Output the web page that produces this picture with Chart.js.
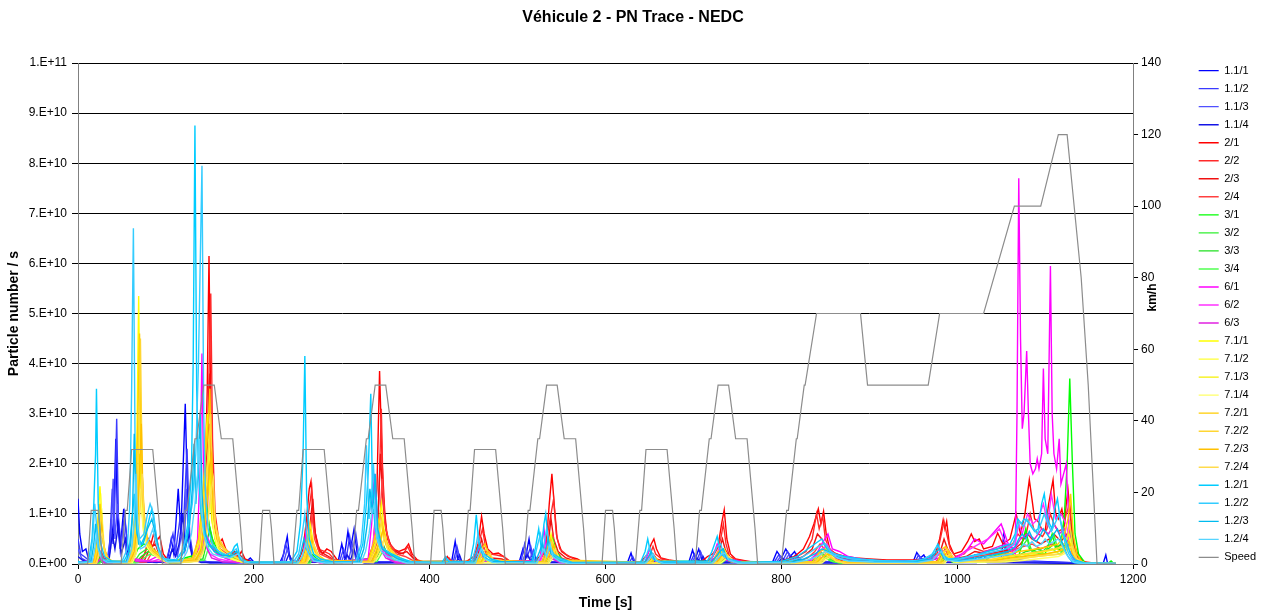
<!DOCTYPE html>
<html>
<head>
<meta charset="utf-8">
<script src="https://cdn.jsdelivr.net/npm/chart.js@4"></script>
<style>
  html, body { margin: 0; background: #fff; }
</style>
</head>
<body>
<canvas id="grafico" width="1267" height="613"></canvas>
<script>
// PN per second, stored as [time s, value in 1e9 particles/s]
const pn_11_1 = [[0,13],[2,6],[5,2.5],[9,3],[12,1],[20,0.4],[30,0.5],[35,2],[38,9],[40,4],[43,25],[45,8],[48,3],[52,11],[55,6],[58,1.5],[65,0.5],[90,0.3],[102,1],[106,5],[109,2],[114,15],[117,6],[122,32],[125,10],[128,3],[134,1],[150,0.3],[190,0.3],[196,1.2],[200,0.4],[230,0.4],[234,2],[238,5.5],[241,1],[250,0.3],[296,0.6],[300,4],[303,1.5],[307,6.5],[310,3],[314,7],[318,1.5],[325,0.4],[425,0.5],[429,4.5],[432,1],[438,0.3],[502,0.5],[506,3],[509,1.2],[513,5],[516,1.5],[522,0.4],[625,0.3],[629,2.2],[632,0.4],[695,0.5],[699,2.8],[702,1],[706,3],[710,0.6],[790,0.4],[795,2.5],[800,1.2],[805,3],[810,1.5],[815,2.5],[820,0.6],[870,0.4],[950,0.5],[954,2.3],[958,1.2],[962,1.8],[966,0.4],[1015,0.6],[1020,1.8],[1025,1.2],[1030,1.6],[1036,0.5],[1050,1],[1053,6],[1056,1],[1080,0.6],[1110,0.4],[1140,0.2],[1166,0.1],[1169,1.8],[1171,0.1],[1180,0.1]];
const pn_11_2 = [[0,5],[3,2],[7,1.5],[12,0.8],[20,0.4],[33,0.6],[36,4],[39,15],[41,6],[44,29],[46,9],[49,4],[53,10],[56,4],[60,1],[70,0.4],[100,0.5],[104,3],[108,6],[111,2.5],[116,9],[119,4],[124,23],[127,6],[131,1.5],[140,0.5],[180,0.2],[195,0.8],[200,0.3],[232,0.5],[236,4],[240,2],[244,0.4],[298,0.8],[302,3],[305,1],[309,5.5],[312,2],[316,6],[320,1],[330,0.3],[427,0.6],[431,3.5],[435,0.5],[504,0.6],[508,4],[511,1.5],[515,3.5],[519,0.5],[627,0.3],[631,1.5],[634,0.3],[697,0.5],[701,2],[704,0.8],[708,2.5],[712,0.4],[792,0.4],[797,1.8],[802,0.8],[807,2.5],[812,1],[817,2],[822,0.4],[952,0.4],[956,1.8],[960,0.8],[964,1.4],[968,0.3],[1018,0.5],[1023,1.5],[1028,0.8],[1033,1.3],[1040,0.4],[1052,0.6],[1055,4],[1058,0.6],[1090,0.4],[1140,0.2],[1180,0.1]];
const pn_11_3 = [[0,3],[4,1.2],[10,0.6],[20,0.3],[34,0.5],[37,3],[40,17],[42,5],[45,12],[48,3],[52,7],[55,2],[60,0.5],[100,0.4],[105,2],[110,4],[113,1.5],[118,6],[121,3],[123,15],[126,4],[132,0.8],[150,0.2],[234,0.4],[238,3],[242,0.5],[300,0.6],[304,2.5],[308,1],[312,4],[316,1],[325,0.3],[428,0.4],[432,2.5],[436,0.3],[505,0.4],[510,2.5],[514,1],[518,2.8],[522,0.3],[698,0.3],[702,1.5],[706,0.6],[709,2],[713,0.3],[794,0.3],[799,1.5],[804,0.6],[809,2],[814,0.8],[819,1.5],[824,0.3],[954,0.3],[958,1.4],[963,0.5],[1020,0.4],[1026,1.2],[1032,0.5],[1054,0.5],[1057,3],[1060,0.5],[1140,0.1],[1180,0.1]];
const pn_11_4 = [[0,1.5],[5,0.8],[15,0.3],[35,0.4],[39,6],[42,3],[46,8],[49,2],[54,5],[58,1],[65,0.3],[103,0.4],[107,3],[111,1.5],[115,4],[119,10],[122,3],[126,6],[130,1],[140,0.3],[236,0.3],[240,2],[244,0.3],[302,0.4],[306,1.8],[310,0.8],[314,3],[318,0.6],[326,0.2],[430,0.3],[434,1.8],[437,0.3],[507,0.3],[511,1.8],[515,0.6],[519,2],[523,0.3],[700,0.3],[704,1.2],[708,0.4],[711,1.5],[715,0.2],[796,0.3],[801,1.2],[806,0.5],[811,1.6],[816,0.6],[821,1.2],[826,0.2],[956,0.2],[960,1],[964,0.3],[1022,0.3],[1028,1],[1034,0.3],[1140,0.1],[1180,0.1]];

const pn_2_1 = [[0,0.3],[15,0.5],[22,1.5],[26,2.5],[30,1],[40,0.4],[70,0.5],[76,2],[80,5],[83,4],[86,6],[89,4.5],[93,5.5],[97,2],[102,0.8],[115,0.5],[130,1],[138,3],[142,8],[145,20],[147,35],[149,61.5],[151,30],[154,12],[157,6],[160,4],[164,5],[168,3],[173,2],[178,2.5],[182,1.5],[186,2.5],[190,1],[197,0.4],[215,0.2],[250,0.3],[256,3],[260,9],[263,15],[265,16.5],[268,8],[272,4],[278,2],[283,3],[288,2.5],[294,1],[300,0.4],[330,1],[336,4],[340,15],[343,38.5],[346,20],[349,10],[352,5],[358,3],[365,2.5],[372,3],[376,4],[380,2],[386,0.8],[395,0.3],[416,0.4],[420,1.5],[424,0.5],[440,0.3],[450,1.5],[455,4],[459,9.5],[462,6],[466,3],[472,2],[478,2.2],[484,1.5],[490,0.6],[520,0.6],[528,2],[533,5],[536,12],[539,18],[542,11],[545,5],[550,2.5],[558,1.5],[568,1],[575,0.3],[640,0.4],[648,2],[652,4],[655,5],[658,3],[663,1.2],[672,0.8],[680,0.6],[688,0.3],[710,0.6],[716,1.5],[722,2],[728,3.5],[732,8],[735,10.8],[738,5],[742,2],[748,1],[760,0.6],[770,0.3],[800,0.5],[815,1.5],[825,3],[832,5.5],[837,8],[842,11],[845,8],[848,10.5],[851,6],[855,3],[862,2],[872,1.5],[885,1.2],[900,1],[920,0.8],[945,0.8],[960,0.8],[975,2],[980,5],[984,8.8],[986,7],[988,8.5],[991,4],[996,2],[1005,2.5],[1012,4.5],[1016,6],[1020,4.5],[1025,5],[1030,3],[1040,3.5],[1046,6.2],[1052,4],[1060,5],[1067,10],[1072,6],[1077,10],[1082,16.8],[1085,13],[1088,9],[1092,8.5],[1096,7],[1100,6.5],[1104,12],[1109,16.8],[1112,10],[1115,9],[1119,11],[1122,8],[1124,12],[1126,14.8],[1129,9],[1133,4],[1138,1.5],[1145,0.4],[1160,0.1],[1180,0.1]];
const pn_2_2 = [[0,0.2],[18,0.4],[23,1.5],[27,2],[31,0.6],[45,0.3],[72,0.6],[78,3],[82,4.5],[85,3.5],[89,5.5],[92,3],[97,1.2],[105,0.5],[128,0.8],[136,2],[141,6],[145,14],[148,30],[151,54],[153,25],[156,10],[160,5],[165,3.5],[170,2.5],[176,2],[181,2.5],[186,1.2],[195,0.3],[252,0.4],[258,2.5],[262,10],[266,15],[269,7],[273,3],[280,2.5],[286,2],[292,0.8],[300,0.3],[333,1],[339,5],[342,12],[345,31],[347,14],[350,7],[355,4],[362,2.5],[370,2],[375,3.5],[380,1.5],[388,0.4],[418,0.3],[422,1.2],[426,0.3],[448,0.6],[453,2],[457,5],[460,7],[463,4],[468,2],[476,1.8],[484,1.5],[492,0.5],[525,0.6],[531,2.5],[535,7],[538,10],[541,13],[544,6],[548,3],[556,1.8],[566,0.8],[576,0.3],[645,0.3],[651,2],[654,3.5],[657,2],[664,1],[676,0.6],[688,0.3],[715,0.5],[722,1.5],[727,3],[731,5],[734,8],[737,4],[741,1.5],[750,0.8],[765,0.3],[805,0.5],[818,1.5],[828,2.5],[835,5],[840,10],[843,7],[847,9.5],[850,5],[856,2.5],[866,1.8],[880,1.2],[900,0.8],[930,0.6],[960,0.6],[977,2],[982,6],[985,8.5],[988,6],[992,3],[998,1.5],[1008,2],[1015,3.5],[1022,3],[1030,2.5],[1045,3],[1055,3.5],[1063,4],[1069,6],[1074,5],[1079,6.4],[1083,10],[1087,7],[1092,6],[1097,5.5],[1102,7],[1106,10],[1110,8],[1115,6.5],[1120,7],[1124,10],[1128,12],[1131,6],[1135,2],[1140,0.6],[1150,0.1],[1180,0.1]];
const pn_2_3 = [[0,0.1],[20,0.3],[25,1.2],[30,0.3],[75,0.5],[80,2.5],[84,3.5],[88,4],[92,2],[98,0.8],[110,0.3],[135,1],[140,4],[144,10],[147,20],[150,38],[152,18],[155,8],[160,4],[166,3],[174,2],[184,1.8],[192,0.5],[200,0.2],[255,0.3],[260,2],[264,8],[267,13],[270,6],[275,2.5],[285,1.5],[295,0.4],[335,0.8],[340,4],[344,22],[347,12],[351,6],[357,3],[366,2],[374,2.5],[382,1],[390,0.3],[450,0.5],[455,1.8],[459,5],[462,3],[470,1.2],[482,1],[492,0.3],[528,0.5],[534,3],[538,9],[541,5],[546,2.5],[555,1.2],[570,0.3],[650,0.3],[654,2],[658,1],[668,0.4],[720,0.4],[728,2],[733,5],[736,3],[742,1],[755,0.3],[810,0.4],[825,1.5],[835,3],[841,6],[846,5],[852,3],[860,1.5],[880,0.8],[920,0.5],[965,0.5],[980,2],[985,5],[989,3],[996,1],[1010,1.5],[1020,2.5],[1035,2],[1050,2.5],[1065,3],[1072,4],[1080,6],[1085,5],[1095,4],[1105,5],[1110,6],[1118,4.5],[1125,6],[1129,8],[1133,3],[1138,0.8],[1150,0.1],[1180,0.1]];
const pn_2_4 = [[0,0.1],[22,0.4],[26,1],[30,0.2],[78,0.4],[83,2],[87,3],[91,1.5],[98,0.5],[138,0.8],[143,3],[147,9],[150,28],[152,12],[156,5],[162,3],[170,2],[180,1.5],[190,0.4],[258,0.3],[263,3],[266,10],[269,5],[275,2],[288,1],[298,0.3],[338,0.8],[342,5],[346,17],[349,8],[354,4],[362,2],[372,1.5],[380,0.8],[390,0.2],[452,0.4],[457,1.5],[460,4],[464,2],[472,0.8],[490,0.2],[530,0.4],[536,2],[540,6],[543,3],[550,1.2],[565,0.2],[652,0.3],[656,1.5],[660,0.5],[724,0.3],[730,1.5],[735,3],[739,1.5],[748,0.4],[815,0.3],[830,1.2],[838,2.5],[844,4],[849,3],[856,1.5],[870,0.6],[910,0.4],[975,0.4],[982,1.5],[986,3],[990,1.5],[1000,0.6],[1020,1.5],[1040,2],[1060,2.5],[1075,3.5],[1085,4],[1095,3],[1108,4],[1115,3.5],[1122,4],[1128,5],[1132,2],[1138,0.5],[1150,0.1],[1180,0.1]];

const pn_3_1 = [[0,0.2],[20,0.3],[25,1.5],[30,0.4],[62,0.5],[68,3],[75,4],[82,3.5],[88,2.5],[95,1],[105,0.4],[138,2],[143,6],[146,12],[149,8],[153,5],[158,3],[165,2],[175,1.5],[185,1],[195,0.3],[258,0.5],[262,3],[266,2],[272,1],[280,0.3],[332,1],[338,4],[342,6],[346,4],[352,2],[360,1],[370,0.4],[452,0.5],[457,2],[461,1.5],[468,0.5],[530,0.5],[536,3],[540,5],[544,2.5],[550,1],[560,0.3],[648,0.4],[653,1.5],[658,0.5],[725,0.5],[730,2],[735,2.5],[740,1],[750,0.3],[835,0.6],[842,2.5],[848,2],[855,1],[870,0.4],[978,0.5],[984,2.5],[990,1],[1000,0.5],[1030,1],[1050,2],[1070,1.5],[1078,7],[1082,3],[1090,2.5],[1100,2],[1108,6],[1112,3],[1118,4],[1122,10],[1125,20],[1128,37],[1131,20],[1134,6],[1138,2],[1145,0.3],[1172,0.2],[1175,0.6],[1178,0.1],[1180,0.1]];
const pn_3_2 = [[0,0.1],[22,0.3],[26,1],[30,0.3],[64,0.4],[70,2],[78,3],[85,2.5],[92,1.5],[100,0.3],[140,1.5],[145,5],[148,9],[152,5],[157,2.5],[165,1.5],[180,1],[195,0.2],[260,0.4],[264,2],[270,0.8],[280,0.2],[335,0.8],[340,3],[344,5],[348,3],[356,1.2],[368,0.3],[455,0.4],[459,1.5],[465,0.4],[532,0.4],[538,2.5],[542,3.5],[547,1.2],[558,0.2],[650,0.3],[655,1],[660,0.2],[728,0.4],[734,1.8],[740,0.6],[752,0.2],[838,0.5],[845,2],[852,1.2],[865,0.3],[980,0.4],[986,1.8],[992,0.6],[1005,0.4],[1040,0.8],[1060,1.5],[1072,3],[1080,5],[1085,2.5],[1095,2],[1105,4],[1110,6],[1114,3],[1120,3],[1125,5],[1128,8],[1131,3],[1136,0.8],[1145,0.1],[1180,0.1]];
const pn_3_3 = [[0,0.1],[24,0.2],[27,0.8],[31,0.2],[66,0.3],[72,1.5],[80,2.5],[88,2],[95,0.8],[105,0.2],[142,1],[146,4],[150,7],[154,3.5],[160,2],[170,1.2],[185,0.6],[195,0.1],[262,0.3],[266,1.5],[272,0.4],[338,0.6],[343,2.5],[347,4],[352,1.5],[362,0.4],[534,0.3],[540,2],[545,1],[555,0.2],[730,0.3],[736,1.2],[742,0.4],[840,0.4],[848,1.5],[856,0.6],[868,0.2],[982,0.3],[988,1.2],[994,0.4],[1045,0.6],[1065,1.2],[1078,2.5],[1090,3],[1100,2.5],[1110,4],[1118,2.5],[1126,4],[1130,6],[1133,2],[1138,0.5],[1150,0.1],[1180,0.1]];
const pn_3_4 = [[0,0.1],[25,0.2],[28,0.6],[32,0.1],[68,0.3],[75,1.2],[82,2],[90,1.5],[98,0.5],[108,0.1],[144,0.8],[148,3],[151,5],[155,2.5],[162,1.5],[172,1],[188,0.4],[198,0.1],[264,0.2],[268,1.2],[274,0.3],[340,0.5],[345,2],[349,3],[354,1.2],[364,0.3],[536,0.3],[542,1.5],[548,0.6],[558,0.1],[732,0.2],[738,1],[744,0.3],[842,0.3],[850,1.2],[858,0.5],[870,0.1],[984,0.2],[990,1],[996,0.3],[1050,0.5],[1070,1],[1082,2],[1095,2.5],[1108,3],[1116,2],[1124,3],[1129,4.5],[1132,1.5],[1137,0.3],[1150,0.1],[1180,0.1]];

const pn_6_1 = [[0,0.2],[20,1],[25,2.5],[30,0.5],[55,0.5],[60,2.5],[65,1],[80,0.6],[90,1.5],[100,0.4],[132,1],[136,5],[139,20],[141,42],[143,15],[146,6],[150,4],[158,2],[170,1],[190,0.3],[255,0.5],[259,6],[262,3],[268,1],[280,0.3],[330,1],[334,8],[337,18],[340,9],[344,5],[350,2],[360,1],[380,0.3],[450,0.4],[455,3],[460,1.5],[470,0.4],[525,0.6],[530,7],[533,3],[540,2.5],[548,1],[560,0.3],[645,0.4],[650,3],[655,1],[665,0.3],[720,0.5],[727,4],[733,2],[740,1],[760,0.3],[830,0.5],[840,2],[846,4],[853,6],[858,3],[866,2.5],[876,1.5],[890,1],[910,0.6],[950,0.6],[975,1],[982,3],[988,1.5],[995,1],[1005,2],[1012,3],[1020,5],[1030,4],[1040,6],[1050,8],[1060,3],[1066,2],[1068,30],[1070,77],[1072,45],[1074,27],[1076,30],[1079,42.5],[1081,30],[1083,20],[1086,18],[1089,19],[1091,21],[1093,19],[1096,22],[1098,39],[1100,25],[1103,22],[1106,59.5],[1108,30],[1110,22],[1113,19],[1116,25],[1118,16],[1121,18],[1124,20],[1127,8],[1130,2],[1135,0.5],[1145,0.2],[1180,0.1]];
const pn_6_2 = [[0,0.1],[20,0.5],[24,2],[28,0.4],[55,0.4],[60,2],[64,0.8],[85,0.5],[92,1],[100,0.3],[135,0.8],[139,4],[142,9],[145,4],[150,2],[160,1],[180,0.3],[257,0.4],[261,3],[265,1],[275,0.2],[332,0.8],[336,5],[339,10],[342,5],[348,2],[358,0.6],[372,0.2],[452,0.3],[457,2],[462,0.6],[526,0.5],[531,4],[535,2],[544,0.8],[556,0.2],[647,0.3],[652,2],[657,0.5],[722,0.4],[729,3],[735,1.2],[745,0.4],[832,0.4],[845,2.5],[852,4],[858,2],[870,1.5],[885,1],[910,0.5],[960,0.5],[982,2],[988,1],[1000,1.2],[1010,2.5],[1020,3.5],[1035,5],[1048,7],[1058,3],[1066,4],[1070,8],[1074,6],[1080,10],[1086,8],[1092,9],[1098,12],[1103,8],[1107,14],[1112,9],[1118,10],[1124,8],[1128,4],[1133,1.5],[1140,0.3],[1180,0.1]];
const pn_6_3 = [[0,0.1],[22,0.3],[26,1.2],[30,0.2],[58,0.3],[62,1.5],[66,0.5],[137,0.6],[141,3],[144,6],[147,3],[152,1.2],[165,0.4],[259,0.3],[263,2],[267,0.5],[334,0.6],[338,3.5],[341,7],[344,3],[350,1.2],[362,0.2],[528,0.4],[533,3],[537,1.2],[548,0.3],[649,0.2],[654,1.2],[659,0.3],[725,0.3],[731,2],[737,0.8],[748,0.2],[835,0.3],[848,1.5],[855,3],[862,1.2],[876,0.8],[900,0.4],[965,0.4],[984,1.5],[990,0.6],[1005,0.8],[1025,2],[1040,3],[1055,4],[1065,3],[1072,5],[1080,6],[1088,5],[1096,7],[1104,6],[1110,8],[1116,6],[1122,7],[1127,3],[1132,1],[1140,0.2],[1180,0.1]];

const pn_71_1 = [[0,0.1],[18,0.3],[21,3],[23,10],[25,15.5],[27,8],[30,3],[34,1],[40,0.4],[58,0.5],[62,3],[65,10],[67,25],[69,53.5],[71,20],[74,8],[78,4],[84,2.5],[92,1.5],[100,0.5],[130,1],[137,4],[141,10],[144,18],[147,30],[150,14],[153,8],[158,4],[165,2],[175,1],[190,0.3],[255,0.3],[260,3],[264,8],[268,4],[274,1.5],[285,0.4],[330,0.5],[336,3],[341,6],[345,12],[348,7],[353,3],[362,1.5],[375,0.4],[455,0.4],[460,2],[464,1],[472,0.3],[530,0.4],[535,3],[538,6],[542,2],[550,0.5],[650,0.3],[655,1.5],[660,0.4],[725,0.4],[730,2],[735,3],[740,1],[750,0.3],[840,0.4],[846,2],[852,3],[858,1],[870,0.3],[980,0.4],[985,2.5],[990,1],[1000,0.4],[1040,0.8],[1060,1.5],[1080,2],[1100,2.5],[1115,3],[1122,4],[1127,6],[1131,3],[1136,1],[1145,0.2],[1180,0.1]];
const pn_71_2 = [[0,0.1],[19,0.3],[22,4],[24,11],[26,13],[28,6],[31,2],[36,0.6],[60,0.5],[64,4],[67,12],[70,30],[72,14],[75,6],[80,3],[88,2],[96,1],[105,0.3],[132,0.8],[139,3],[143,9],[146,16],[149,25],[151,12],[155,6],[161,3],[170,1.5],[182,0.6],[195,0.2],[257,0.3],[262,2.5],[265,6],[269,3],[276,1],[288,0.3],[332,0.5],[338,2.5],[343,5],[346,9],[349,5],[355,2.5],[365,1],[378,0.3],[457,0.3],[462,1.5],[466,0.6],[532,0.3],[537,2.5],[540,4.5],[544,1.5],[552,0.4],[652,0.2],[657,1.2],[662,0.3],[727,0.3],[733,1.5],[737,2.2],[742,0.8],[752,0.2],[842,0.3],[848,1.5],[854,2.5],[860,0.8],[872,0.2],[982,0.3],[987,2],[992,0.8],[1002,0.3],[1045,0.6],[1065,1.2],[1085,1.8],[1102,2],[1116,2.5],[1124,3.5],[1128,5],[1132,2.5],[1137,0.8],[1146,0.1],[1180,0.1]];
const pn_71_3 = [[0,0.1],[20,0.2],[23,3],[25,8],[27,10],[29,4],[33,1.2],[38,0.4],[61,0.4],[65,3],[68,9],[70,22],[73,10],[76,5],[82,2.5],[90,1.5],[98,0.6],[108,0.2],[134,0.6],[140,2.5],[144,7],[147,13],[150,20],[152,9],[157,4],[164,2],[174,1],[186,0.4],[258,0.2],[263,2],[266,5],[270,2],[278,0.6],[334,0.4],[340,2],[344,4],[347,7],[351,3.5],[358,1.5],[368,0.6],[380,0.2],[458,0.2],[463,1.2],[467,0.4],[534,0.2],[539,2],[542,3.5],[546,1],[554,0.3],[729,0.2],[735,1.2],[739,1.8],[744,0.5],[844,0.2],[850,1.2],[856,2],[862,0.6],[874,0.2],[984,0.2],[989,1.6],[994,0.6],[1050,0.5],[1070,1],[1090,1.5],[1106,1.8],[1118,2],[1125,3],[1129,4],[1133,2],[1138,0.5],[1148,0.1],[1180,0.1]];
const pn_71_4 = [[0,0.1],[21,0.2],[24,2],[26,6],[28,8],[30,3],[34,1],[40,0.3],[62,0.3],[66,2],[69,6],[71,15],[74,7],[78,3.5],[85,2],[93,1],[102,0.3],[136,0.5],[142,2],[146,5],[149,10],[152,16],[154,7],[159,3],[167,1.5],[178,0.8],[190,0.3],[260,0.2],[265,1.5],[268,3.5],[272,1.5],[280,0.4],[336,0.3],[342,1.5],[346,3],[349,5],[353,2.5],[360,1],[372,0.3],[536,0.2],[541,1.5],[544,2.5],[548,0.8],[556,0.2],[731,0.2],[737,1],[741,1.4],[746,0.4],[846,0.2],[852,1],[858,1.5],[864,0.5],[986,0.2],[991,1.2],[996,0.4],[1055,0.4],[1080,0.8],[1100,1.2],[1115,1.5],[1124,2.2],[1129,3],[1133,1.5],[1139,0.4],[1150,0.1],[1180,0.1]];

const pn_72_1 = [[0,0.1],[18,0.4],[21,4],[23,9],[25,12],[27,7],[30,3],[34,1.2],[40,0.5],[57,0.6],[62,4],[66,14],[68,28],[70,46],[72,22],[75,10],[79,5],[85,3],[93,2],[100,0.8],[110,0.3],[130,1.2],[137,5],[141,12],[145,22],[148,28],[150,35],[152,16],[155,9],[160,5],[167,3],[176,1.8],[186,0.8],[196,0.3],[254,0.4],[259,4],[263,7],[267,4],[273,1.8],[284,0.5],[330,0.6],[335,3.5],[340,7],[344,10],[347,7],[352,4],[360,2],[372,0.6],[454,0.5],[459,3],[463,4],[467,1.5],[475,0.4],[528,0.5],[534,3.5],[537,5],[541,2.5],[549,0.8],[648,0.3],[653,2],[658,0.6],[722,0.4],[728,2.5],[733,3],[738,1.2],[748,0.4],[836,0.5],[844,2.5],[850,3],[856,1.2],[868,0.4],[978,0.5],[983,3],[987,3.5],[992,1.2],[1002,0.5],[1030,1],[1050,1.8],[1070,2.5],[1090,3],[1105,3.5],[1115,4],[1122,6],[1126,9],[1129,14],[1132,6],[1136,2],[1142,0.4],[1150,0.1],[1180,0.1]];
const pn_72_2 = [[0,0.1],[19,0.3],[22,3],[24,7],[26,10],[28,5],[31,2],[36,0.6],[58,0.5],[63,3],[67,12],[69,25],[71,45],[73,18],[76,8],[80,4],[87,2.5],[95,1.5],[103,0.5],[132,1],[138,4],[142,10],[146,18],[149,24],[151,30],[153,14],[157,7],[163,4],[171,2.2],[180,1.2],[190,0.4],[256,0.3],[261,3],[264,6],[268,3],[275,1.2],[286,0.3],[332,0.5],[337,3],[342,6],[345,8.5],[348,5],[354,3],[364,1.5],[376,0.4],[456,0.4],[461,2.5],[465,3],[469,1],[478,0.3],[530,0.4],[536,3],[539,4.5],[543,2],[551,0.6],[650,0.2],[655,1.5],[660,0.4],[724,0.3],[730,2],[735,2.5],[740,1],[750,0.3],[838,0.4],[846,2],[852,2.5],[858,1],[870,0.3],[980,0.4],[985,2.5],[989,3],[994,1],[1004,0.4],[1035,0.8],[1055,1.5],[1075,2],[1095,2.5],[1110,3],[1120,3.5],[1125,5],[1128,8],[1131,4],[1136,1.2],[1143,0.2],[1180,0.1]];
const pn_72_3 = [[0,0.1],[20,0.3],[23,2.5],[25,6],[27,8],[29,4],[32,1.5],[38,0.4],[59,0.4],[64,2.5],[68,9],[70,18],[72,28],[74,13],[77,6],[82,3],[89,2],[97,1],[106,0.3],[134,0.8],[140,3],[144,8],[147,14],[150,20],[152,22],[154,10],[158,5],[165,3],[174,1.8],[184,0.8],[194,0.2],[258,0.3],[262,2.5],[266,5],[270,2.5],[277,0.8],[334,0.4],[339,2.5],[344,5],[347,7],[350,4],[356,2],[366,1],[378,0.3],[458,0.3],[463,2],[467,2.5],[471,0.8],[532,0.3],[538,2.5],[541,3.8],[545,1.5],[553,0.4],[652,0.2],[657,1.2],[662,0.3],[726,0.2],[732,1.6],[737,2],[742,0.8],[752,0.2],[840,0.3],[848,1.6],[854,2],[860,0.8],[872,0.2],[982,0.3],[987,2],[991,2.5],[996,0.8],[1040,0.6],[1060,1.2],[1080,1.6],[1100,2],[1114,2.5],[1122,3],[1127,4.5],[1131,2],[1137,0.6],[1145,0.1],[1180,0.1]];
const pn_72_4 = [[0,0.1],[21,0.2],[24,2],[26,5],[28,6],[30,3],[33,1],[40,0.3],[60,0.3],[65,2],[69,7],[71,12],[73,18],[75,9],[78,4.5],[84,2.5],[91,1.5],[99,0.6],[108,0.2],[136,0.6],[142,2.5],[146,6],[149,11],[152,15],[154,17],[156,8],[160,4],[168,2.5],[177,1.5],[188,0.6],[196,0.1],[260,0.2],[264,2],[268,4],[272,2],[279,0.6],[336,0.3],[341,2],[346,4],[349,5.5],[352,3],[358,1.5],[368,0.8],[380,0.2],[460,0.2],[465,1.5],[469,2],[473,0.6],[534,0.2],[540,2],[543,3],[547,1.2],[555,0.3],[728,0.2],[734,1.2],[739,1.6],[744,0.6],[754,0.1],[842,0.2],[850,1.2],[856,1.6],[862,0.6],[874,0.1],[984,0.2],[989,1.6],[993,2],[998,0.6],[1045,0.5],[1065,1],[1085,1.4],[1105,1.8],[1118,2],[1125,2.8],[1130,3.5],[1134,1.5],[1140,0.4],[1148,0.1],[1180,0.1]];

const pn_12_1 = [[0,0.5],[5,0.3],[12,0.6],[16,5],[18,12],[20,22],[21,35],[23,12],[26,4],[30,1.5],[38,0.6],[52,0.5],[58,2.5],[61,8],[64,14],[67,6],[72,4],[77,6],[81,9],[84,11],[87,8],[91,3],[98,1],[112,0.8],[120,3],[125,8],[129,18],[131,40],[133,87.5],[135,35],[137,18],[140,10],[144,6],[149,4],[156,3],[165,2],[173,1.5],[178,3.5],[181,4],[184,1.5],[192,0.4],[242,0.4],[249,2.5],[253,8],[256,22],[258,41.5],[260,14],[263,5],[268,2],[276,1],[290,0.4],[318,0.5],[324,4],[328,12],[330,18],[333,34],[335,14],[338,7],[342,4],[348,3],[357,2],[366,1.2],[380,0.4],[414,0.3],[418,1.5],[422,0.4],[446,0.5],[450,4],[453,9.8],[456,4],[462,2],[470,1],[482,0.4],[516,0.5],[520,3],[524,7],[527,3],[530,8],[532,10],[535,4],[541,2],[550,1],[562,0.3],[640,0.4],[645,2.5],[648,5],[652,1.5],[660,0.5],[716,0.6],[721,2.5],[724,4],[727,5.5],[731,2],[740,1],[755,0.3],[800,0.5],[818,1.5],[830,3],[838,4],[846,5],[852,3],[860,2],[872,1.5],[890,1],[920,0.6],[955,0.6],[970,1.5],[975,3],[978,4],[982,2],[990,1],[1005,1.2],[1025,2],[1045,3],[1060,4],[1066,6],[1069,9],[1073,8],[1076,9],[1080,8.5],[1084,7.5],[1088,6.5],[1092,7],[1096,12],[1099,14],[1102,10],[1105,8],[1108,7],[1111,11],[1114,13],[1117,9],[1121,6],[1125,4],[1129,2],[1134,0.8],[1145,0.2],[1180,0.1]];
const pn_12_2 = [[0,0.3],[8,0.3],[14,0.8],[17,6],[19,12],[21,8],[24,3],[28,1],[36,0.5],[50,0.5],[56,3],[59,12],[61,35],[63,67],[65,22],[67,9],[70,5],[75,6],[79,10],[82,12],[86,10],[90,4],[96,1.2],[110,0.6],[118,2],[124,6],[130,12],[134,22],[137,40],[139,60],[141,79.5],[143,30],[145,14],[148,7],[153,4],[160,2.5],[168,1.8],[176,2.5],[180,3],[184,1],[190,0.3],[245,0.4],[251,2],[255,6],[258,10],[261,4],[266,1.5],[275,0.6],[288,0.3],[316,0.5],[322,4],[326,12],[328,23.7],[331,9],[334,14],[336,20],[339,8],[343,4],[350,2.5],[360,1.5],[372,0.5],[416,0.2],[420,1],[424,0.3],[448,0.4],[452,3],[455,6],[458,2.5],[465,1],[476,0.3],[518,0.4],[523,4],[526,6],[529,3],[533,7],[536,3],[543,1.5],[552,0.6],[564,0.2],[642,0.3],[647,2],[650,3.5],[654,1],[662,0.3],[718,0.4],[723,2],[727,3.5],[731,4],[735,1.5],[745,0.6],[758,0.2],[805,0.4],[822,1.2],[834,2.5],[842,3.5],[850,4],[856,2.5],[866,1.5],[880,1],[905,0.7],[940,0.5],[960,0.8],[972,2],[977,3.5],[981,3],[986,1.2],[998,0.8],[1015,1.5],[1035,2.2],[1055,3],[1064,4],[1068,7],[1071,8.5],[1075,7.5],[1079,9],[1083,8],[1087,7],[1091,6],[1095,8],[1099,10],[1103,8],[1107,6.5],[1111,8],[1116,10],[1119,7],[1123,4],[1127,2],[1132,0.6],[1142,0.2],[1180,0.1]];
const pn_12_3 = [[0,0.2],[15,0.5],[18,4],[20,8],[22,4],[26,1.5],[32,0.4],[55,0.5],[60,4],[62,10],[64,26],[66,10],[69,4],[74,4],[79,7],[84,9],[88,6],[93,2],[100,0.6],[115,0.6],[122,3],[127,8],[130,15],[132,24],[134,12],[137,20],[139,30],[141,14],[144,7],[148,4],[155,2.5],[164,1.8],[174,1.5],[180,2.5],[186,0.8],[194,0.2],[248,0.3],[253,2],[257,5],[260,3],[266,1],[280,0.3],[320,0.4],[325,3],[329,8],[332,15],[335,10],[338,18],[341,7],[346,3],[354,2],[364,1],[376,0.3],[450,0.3],[454,2.5],[457,4],[461,1.5],[470,0.5],[520,0.3],[525,2.5],[528,4],[531,2],[535,5],[538,2],[546,0.8],[558,0.2],[644,0.2],[649,1.5],[652,2.5],[656,0.8],[664,0.2],[720,0.3],[726,1.5],[730,2.5],[734,3],[738,1],[748,0.3],[810,0.3],[826,1],[838,2],[846,3],[853,2.5],[860,1.6],[872,0.8],[900,0.5],[950,0.4],[970,1],[976,2.5],[980,3],[985,1],[1000,0.6],[1020,1.2],[1040,1.8],[1058,2.5],[1066,3.5],[1070,5],[1074,6],[1078,5],[1082,6.5],[1086,5],[1090,4.5],[1094,5.5],[1098,7],[1102,6],[1106,5],[1110,6],[1114,7],[1118,5],[1122,3],[1126,1.5],[1131,0.4],[1140,0.1],[1180,0.1]];
const pn_12_4 = [[0,0.2],[16,0.4],[19,3],[21,6],[23,3],[27,1],[34,0.3],[56,0.4],[61,3],[64,8],[66,18],[68,7],[71,3],[76,3.5],[81,5],[85,7],[89,4],[94,1.5],[102,0.4],[118,0.5],[124,2.5],[129,6],[133,12],[136,18],[138,25],[140,12],[143,6],[147,3.5],[153,2],[162,1.5],[172,1.2],[182,2],[188,0.6],[196,0.1],[250,0.2],[255,1.5],[259,4],[262,2],[268,0.6],[282,0.2],[322,0.3],[327,2.5],[331,6],[334,10],[337,12],[340,5],[345,2.5],[352,1.5],[362,0.8],[374,0.2],[452,0.2],[456,2],[459,3],[463,1],[472,0.3],[522,0.2],[527,2],[530,3],[533,1.5],[537,4],[540,1.5],[548,0.5],[560,0.1],[646,0.2],[651,1.2],[654,2],[658,0.6],[666,0.1],[722,0.2],[728,1.2],[732,2],[736,2.2],[740,0.8],[750,0.2],[815,0.3],[830,0.8],[842,1.6],[850,2.5],[857,2],[864,1.2],[876,0.6],[905,0.4],[955,0.3],[972,0.8],[978,2],[982,2.5],[987,0.8],[1002,0.5],[1025,1],[1045,1.5],[1062,2],[1070,3],[1076,4],[1080,3.5],[1085,4.5],[1090,3.5],[1096,4],[1100,5],[1105,4],[1110,4.5],[1115,5],[1120,3.5],[1124,2],[1128,1],[1133,0.3],[1142,0.1],[1180,0.1]];

// NEDC speed trace [time s, km/h]
const vitesse = [[0,0],[11,0],[15,15],[23,15],[25,10],[28,0],[49,0],[54,15],[56,15],[61,32],[85,32],[93,10],[96,0],[117,0],[122,15],[124,15],[133,35],[135,35],[143,50],[155,50],[163,35],[176,35],[185,10],[188,0],
  [206,0],[210,15],[218,15],[220,10],[223,0],[244,0],[249,15],[251,15],[256,32],[280,32],[288,10],[291,0],[312,0],[317,15],[319,15],[328,35],[330,35],[338,50],[350,50],[358,35],[371,35],[380,10],[383,0],
  [401,0],[405,15],[413,15],[415,10],[418,0],[439,0],[444,15],[446,15],[451,32],[475,32],[483,10],[486,0],[507,0],[512,15],[514,15],[523,35],[525,35],[533,50],[545,50],[553,35],[566,35],[575,10],[578,0],
  [596,0],[600,15],[608,15],[610,10],[613,0],[634,0],[639,15],[641,15],[646,32],[670,32],[678,10],[681,0],[702,0],[707,15],[709,15],[718,35],[720,35],[728,50],[740,50],[748,35],[761,35],[770,10],[773,0],
  [800,0],[806,15],[808,15],[817,35],[818,35],[826,50],[827,50],[840,70],[890,70],[898,50],[967,50],[980,70],[1030,70],[1065,100],[1095,100],[1115,120],[1125,120],[1141,80],[1149,50],[1159,0],[1180,0]];

const noms = ['1.1/1','1.1/2','1.1/3','1.1/4','2/1','2/2','2/3','2/4','3/1','3/2','3/3','3/4','6/1','6/2','6/3',
  '7.1/1','7.1/2','7.1/3','7.1/4','7.2/1','7.2/2','7.2/3','7.2/4','1.2/1','1.2/2','1.2/3','1.2/4'];
const series = [pn_11_1, pn_11_2, pn_11_3, pn_11_4, pn_2_1, pn_2_2, pn_2_3, pn_2_4, pn_3_1, pn_3_2, pn_3_3, pn_3_4,
  pn_6_1, pn_6_2, pn_6_3, pn_71_1, pn_71_2, pn_71_3, pn_71_4, pn_72_1, pn_72_2, pn_72_3, pn_72_4,
  pn_12_1, pn_12_2, pn_12_3, pn_12_4];
const couleurs = ['#0000ff','#3a3aff','#5050ff','#1414e6','#ff0000','#ff2a2a','#f01010','#ff4040',
  '#00ff00','#30f030','#20e020','#50ff50','#ff00ff','#ff30ff','#e020e0',
  '#ffff00','#ffff33','#f5f000','#ffff66','#ffcc00','#ffd633','#ffc000','#ffdb4d',
  '#00ccff','#33ccff','#00bbee','#55d4ff'];

const police = 'Liberation Sans, Arial, sans-serif';

const datasets = series.map((s, i) => ({
  label: noms[i],
  data: s.map(([x, y]) => ({ x, y })),
  borderColor: couleurs[i],
  backgroundColor: couleurs[i],
  borderWidth: 1.4,
  pointRadius: 0,
  yAxisID: 'y',
  order: series.length - i
}));
datasets.push({
  label: 'Speed',
  data: vitesse.map(([x, y]) => ({ x, y })),
  borderColor: '#8c8c8c',
  backgroundColor: '#8c8c8c',
  borderWidth: 1.2,
  pointRadius: 0,
  yAxisID: 'y1',
  order: 0
});

// Excel style "1.E+10" labels (values are in 1e9)
function formatExp(v) {
  if (v === 0) return '0.E+00';
  const n = v * 1e9;
  const e = Math.floor(Math.log10(n) + 1e-9);
  const m = Math.round(n / Math.pow(10, e));
  return m + '.E+' + String(e).padStart(2, '0');
}

// rotated km/h title, reading bottom to top like the left one
const titreKmh = {
  id: 'titreKmh',
  afterDraw(chart) {
    const s = chart.scales.y1;
    const ctx = chart.ctx;
    ctx.save();
    ctx.translate(s.left + 20, (s.top + s.bottom) / 2 - 16);
    ctx.rotate(-Math.PI / 2);
    ctx.font = 'bold 12px ' + police;
    ctx.fillStyle = '#000';
    ctx.textAlign = 'center';
    ctx.textBaseline = 'middle';
    ctx.fillText('km/h', 0, 0);
    ctx.restore();
  }
};

const ctx = document.getElementById('grafico').getContext('2d');
const chart = new Chart(ctx, {
  type: 'line',
  data: { datasets },
  plugins: [titreKmh],
  options: {
    responsive: false,
    animation: false,
    layout: { padding: { left: 0, right: 1, top: 0, bottom: 0 } },
    plugins: {
      title: {
        display: true,
        text: 'Véhicule 2 - PN Trace - NEDC',
        color: '#000',
        font: { family: police, size: 16, weight: 'bold' },
        padding: { top: 8, bottom: 35.8 }
      },
      legend: {
        position: 'right',
        align: 'center',
        title: { display: true, text: '', font: { size: 10 }, padding: { top: 3, bottom: 0 } },
        labels: {
          usePointStyle: true,
          pointStyle: 'line',
          pointStyleWidth: 20,
          padding: 7.03,
          color: '#000',
          font: { family: police, size: 11 },
          sort: (a, b) => a.datasetIndex - b.datasetIndex
        }
      },
      tooltip: { enabled: false }
    },
    scales: {
      x: {
        type: 'linear',
        min: 0,
        max: 1200,
        ticks: { stepSize: 200, color: '#000', font: { family: police, size: 12 }, padding: 3, maxRotation: 0, callback: (v) => String(v) },
        grid: { drawOnChartArea: false, tickLength: 5, color: '#000' },
        border: { color: '#808080' },
        title: { display: true, text: 'Time [s]', color: '#000', font: { family: police, size: 14, weight: 'bold' }, padding: { top: 0, bottom: 1 } },
        afterFit: (s) => { s.height = 49; }
      },
      y: {
        min: 0,
        max: 100,
        ticks: { stepSize: 10, color: '#000', font: { family: police, size: 12 }, padding: 5, callback: (v) => formatExp(v) },
        grid: { color: '#000', tickLength: 6 },
        border: { color: '#808080' },
        title: { display: true, text: 'Particle number / s', color: '#000', font: { family: police, size: 14, weight: 'bold' }, padding: { top: 6, bottom: 0 } },
        afterFit: (s) => { s.width = 78; }
      },
      y1: {
        position: 'right',
        min: 0,
        max: 140,
        ticks: { stepSize: 20, color: '#000', font: { family: police, size: 12 }, padding: 3 },
        grid: { drawOnChartArea: false, tickLength: 5, color: '#000' },
        border: { color: '#808080' },
        afterFit: (s) => { s.width = 58.6; }
      }
    }
  }
});
</script>
</body>
</html>
